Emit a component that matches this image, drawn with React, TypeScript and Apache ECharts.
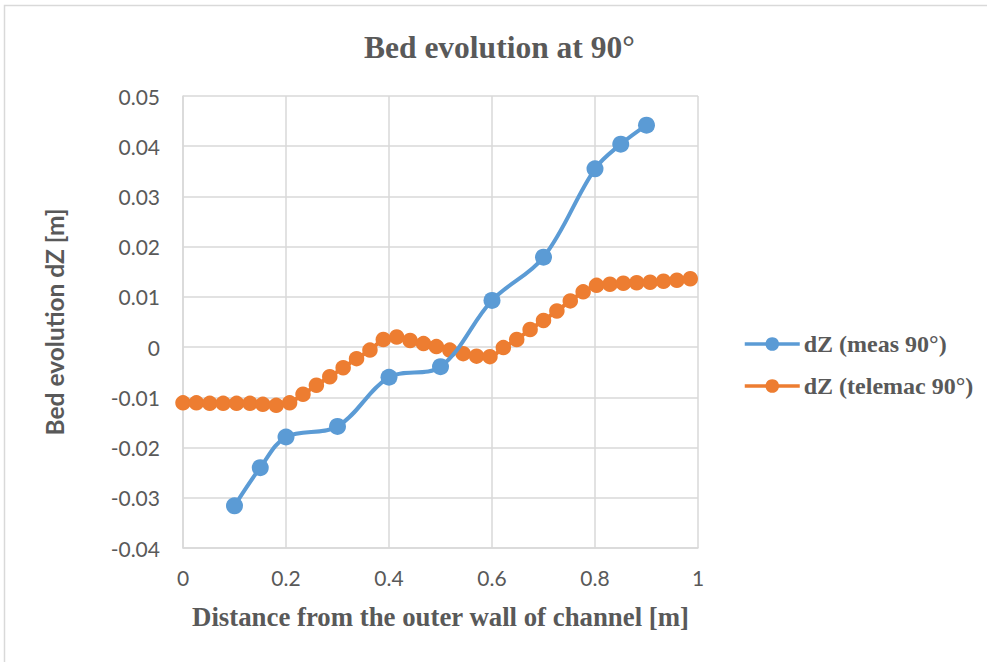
import React, { useEffect, useRef } from "react";
import * as echarts from "echarts";

const measX = [0.1, 0.15, 0.2, 0.3, 0.4, 0.5, 0.6, 0.7, 0.8, 0.85, 0.9];
const measY = [-0.0316, -0.024, -0.0179, -0.0158, -0.006, -0.0039, 0.0093, 0.0179, 0.0355, 0.0404, 0.0442];

const telX = [
  0, 0.026, 0.052, 0.078, 0.104, 0.13, 0.155, 0.181, 0.207, 0.233, 0.259, 0.285, 0.311,
  0.337, 0.363, 0.389, 0.415, 0.441, 0.467, 0.492, 0.518, 0.544, 0.57, 0.596, 0.622,
  0.648, 0.674, 0.7, 0.726, 0.752, 0.777, 0.803, 0.829, 0.855, 0.881, 0.907, 0.933,
  0.959, 0.985,
];
const telY = [
  -0.0111, -0.0111, -0.0112, -0.0112, -0.0112, -0.0112, -0.0114, -0.0116, -0.0111,
  -0.0094, -0.0076, -0.0059, -0.0041, -0.0023, -0.0006, 0.0015, 0.002, 0.0013, 0.0007,
  0.0001, -0.0006, -0.0013, -0.0018, -0.0019, -0.0001, 0.0015, 0.0035, 0.0053, 0.0072,
  0.0092, 0.011, 0.0123, 0.0125, 0.0127, 0.0128, 0.0129, 0.0131, 0.0133, 0.0136,
];

const seriesNames = ["dZ (meas 90°)", "dZ (telemac 90°)"];
const titleText = "Bed evolution at 90°";
const xTitle = "Distance from the outer wall of channel [m]";
const yTitle = "Bed evolution dZ [m]";

const BLUE = "#5B9BD5";
const ORANGE = "#ED7D31";
const GRID = "#D9D9D9";
const TEXT = "#595959";

export default function App() {
  const ref = useRef<HTMLDivElement>(null);
  useEffect(() => {
    if (!ref.current) return;
    const chart = echarts.init(ref.current, undefined, { renderer: "svg" });
    const fmt = (v: number) => String(parseFloat(v.toFixed(2)));
    chart.setOption({
      animation: false,
      backgroundColor: "#fff",
      title: {
        text: titleText,
        left: 364,
        top: 31,
        padding: 0,
        textStyle: {
          fontFamily: "Liberation Serif",
          fontWeight: "bold",
          fontSize: 31.5,
          color: TEXT,
        },
      },
      graphic: [
        {
          type: "rect",
          shape: { x: 4.5, y: 5.5, width: 1000, height: 700 },
          style: { fill: "none", stroke: GRID, lineWidth: 1.5 },
          silent: true,
        },
      ],
      legend: {
        orient: "vertical",
        left: 743,
        top: 332,
        padding: 0,
        itemWidth: 55,
        itemHeight: 17,
        itemGap: 18,
        lineStyle: { width: 3.5 },
        textStyle: {
          fontFamily: "Liberation Serif",
          fontWeight: "bold",
          fontSize: 24,
          lineHeight: 24,
          color: TEXT,
          padding: [0, 0, 0, -1],
        },
        data: seriesNames,
      },
      grid: { left: 183, right: 289, top: 96, bottom: 114 },
      xAxis: {
        type: "value",
        min: 0,
        max: 1,
        interval: 0.2,
        name: xTitle,
        nameLocation: "middle",
        nameGap: 55,
        nameTextStyle: {
          fontFamily: "Liberation Serif",
          fontWeight: "bold",
          fontSize: 26.8,
          color: TEXT,
        },
        axisLine: { show: true, onZero: false, lineStyle: { color: GRID, width: 1.5 } },
        axisTick: { show: false },
        axisLabel: {
          margin: 19,
          formatter: fmt,
          fontFamily: "Lato",
          fontSize: 21,
          color: TEXT,
        },
        splitLine: { show: true, lineStyle: { color: GRID, width: 1.5 } },
      },
      yAxis: {
        type: "value",
        min: -0.04,
        max: 0.05,
        interval: 0.01,
        name: yTitle,
        nameLocation: "middle",
        nameGap: 116,
        nameRotate: 90,
        nameTextStyle: {
          fontFamily: "Lato",
          fontWeight: "bold",
          fontSize: 24.5,
          color: TEXT,
        },
        axisLine: { show: true, lineStyle: { color: GRID, width: 1.5 } },
        axisTick: { show: false },
        axisLabel: {
          margin: 23,
          formatter: fmt,
          fontFamily: "Lato",
          fontSize: 21,
          color: TEXT,
        },
        splitLine: { show: true, lineStyle: { color: GRID, width: 1.5 } },
      },
      series: [
        {
          name: seriesNames[0],
          type: "line",
          data: measX.map((x, i) => [x, measY[i]]),
          smooth: 0.35,
          symbol: "circle",
          symbolSize: 17,
          lineStyle: { color: BLUE, width: 4 },
          itemStyle: { color: BLUE, borderWidth: 0 },
          z: 3,
        },
        {
          name: seriesNames[1],
          type: "line",
          data: telX.map((x, i) => [x, telY[i]]),
          smooth: 0.35,
          symbol: "circle",
          symbolSize: 15.5,
          lineStyle: { color: ORANGE, width: 4 },
          itemStyle: { color: ORANGE, borderWidth: 0 },
          z: 2,
        },
      ],
    });
    return () => chart.dispose();
  }, []);
  return <div ref={ref} style={{ width: 987, height: 662, position: "fixed", left: 0, top: 0 }} />;
}
